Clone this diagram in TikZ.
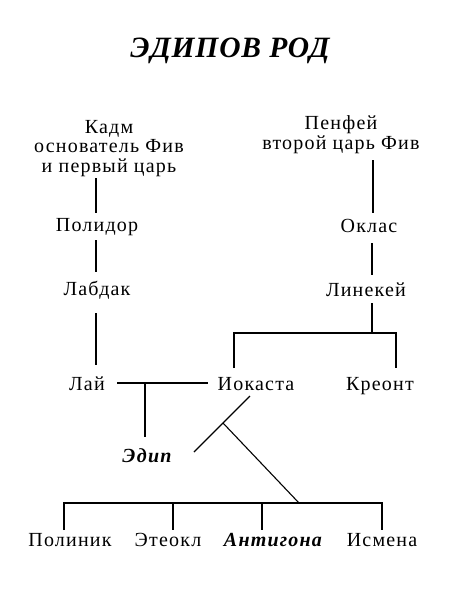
\documentclass[tikz,border=0pt]{standalone}
\usepackage{fontspec}
\setmainfont{Liberation Serif}
\newfontfamily\bodyfont[LetterSpace=6]{Liberation Serif}
\newfontfamily\titlefont[LetterSpace=3]{Liberation Serif}
\begin{document}
\begin{tikzpicture}[x=1pt,y=-1pt,
  person/.style={anchor=base,inner sep=0pt,font=\bodyfont\fontsize{20}{19.5}\selectfont},
  hero/.style={anchor=base,inner sep=0pt,font=\bodyfont\fontsize{20}{19.5}\selectfont\bfseries\itshape},
  link/.style={line width=1.1pt,black}]
\useasboundingbox[fill=white] (0,0) rectangle (466,600);
\node[anchor=base,inner sep=0pt,font=\titlefont\fontsize{29.5}{30}\selectfont\bfseries\itshape] (title) at (230,57) {ЭДИПОВ РОД};
% people (multi-line nodes: base = last line)
\node[person,align=center] (kadm) at (109,172) {Кадм\\основатель Фив\\и первый царь};
\node[person,align=center] (penfei) at (341,149) {Пенфей\\второй царь Фив};
\node[person] (polidor) at (97,231) {Полидор};
\node[person] (oklas) at (369,232) {Оклас};
\node[person] (labdak) at (97,295) {Лабдак};
\node[person] (linekei) at (366,296) {Линекей};
\node[person] (lai) at (87,390) {Лай};
\node[person] (iokasta) at (256,390) {Иокаста};
\node[person] (kreont) at (380,390) {Креонт};
\node[hero] (edip) at (147,462) {Эдип};
\node[person] (polinik) at (70,546) {Полиник};
\node[person] (eteokl) at (168,546) {Этеокл};
\node[hero] (antigona) at (273,546) {Антигона};
\node[person] (ismena) at (382,546) {Исмена};
% junction coordinates
\coordinate (k1) at (96,178); \coordinate (k2) at (96,213);
\coordinate (p1) at (96,240); \coordinate (p2) at (96,272);
\coordinate (l1) at (96,313); \coordinate (l2) at (96,365);
\coordinate (pe1) at (373,160); \coordinate (pe2) at (373,213);
\coordinate (o1) at (372,243); \coordinate (o2) at (372,275);
\coordinate (li1) at (372,303); \coordinate (li2) at (372,333);
\coordinate (sl) at (234,333); \coordinate (sr) at (396,333);
\coordinate (slb) at (234,368); \coordinate (srb) at (396,368);
\coordinate (m1) at (117,383); \coordinate (m2) at (208,383);
\coordinate (mc) at (145,383); \coordinate (mcb) at (145,437);
\coordinate (d1) at (250,396); \coordinate (d2) at (194,452);
\coordinate (db) at (223,423); \coordinate (dc) at (299,503);
\coordinate (c1) at (64,503); \coordinate (c2) at (173,503);
\coordinate (c3) at (262,503); \coordinate (c4) at (382,503);
\coordinate (c1b) at (64,530); \coordinate (c2b) at (173,530);
\coordinate (c3b) at (262,530); \coordinate (c4b) at (382,530);
% connectors
\draw[link] (k1) -- (k2);
\draw[link] (p1) -- (p2);
\draw[link] (l1) -- (l2);
\draw[link] (pe1) -- (pe2);
\draw[link] (o1) -- (o2);
\draw[link] (li1) -- (li2);
\draw[link] (slb) -- (sl) -- (sr) -- (srb);
\draw[link] (m1) -- (m2);
\draw[link] (mc) -- (mcb);
\draw[link] (d1) -- (d2);
\draw[link] (db) -- (dc);
\draw[link] (c1b) -- (c1) -- (c4) -- (c4b);
\draw[link] (c2) -- (c2b);
\draw[link] (c3) -- (c3b);
\end{tikzpicture}
\end{document}
